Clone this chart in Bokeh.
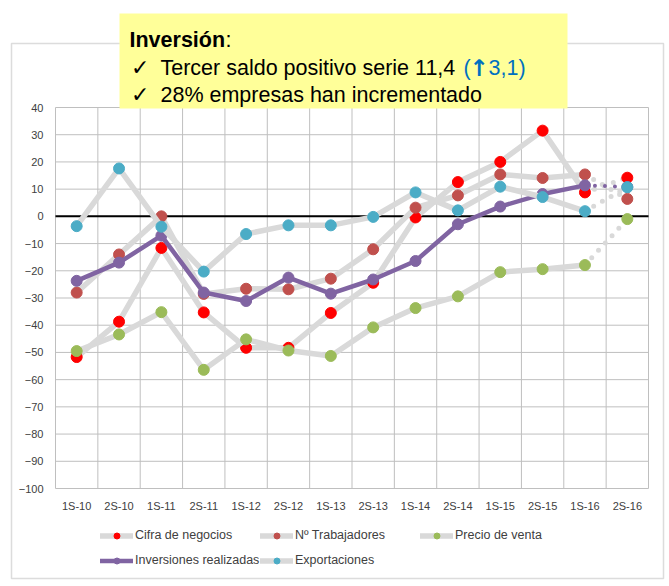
from bokeh.plotting import figure
from bokeh.models import Range1d, FixedTicker, BoxAnnotation, Label, Legend, LegendItem
from bokeh.embed import file_html
from bokeh.resources import INLINE

periods = ["1S-10", "2S-10", "1S-11", "2S-11", "1S-12", "2S-12", "1S-13",
           "2S-13", "1S-14", "2S-14", "1S-15", "2S-15", "1S-16", "2S-16"]
cifra = [-51.7, -38.7, -11.6, -35.3, -48.3, -48.3, -35.5, -24.4, -0.4, 12.6, 20.0, 31.5, 8.8, 14.2]
trabajadores = [-28.0, -14.0, 0.0, -28.5, -26.6, -26.8, -22.9, -12.1, 3.2, 7.7, 15.4, 14.1, 15.4, 6.4]
precio = [-49.5, -43.4, -35.2, -56.4, -45.2, -49.3, -51.3, -40.8, -33.7, -29.4, -20.5, -19.4, -17.9, -1.0]
inversiones = [-23.7, -17.0, -7.1, -28.0, -31.1, -22.5, -28.4, -23.2, -16.4, -2.9, 3.6, 8.2, 11.4, 10.8]
exportaciones = [-3.6, 17.6, -3.8, -20.3, -6.5, -3.3, -3.3, -0.2, 8.8, 2.2, 10.9, 7.1, 1.9, 10.7]
y_ticks = list(range(-100, 41, 10))

# canvas size and plot-area box (canvas pixels)
W, H = 666, 582
PL, PR, PT, PB = 55, 648, 107, 488

x = [i + 0.5 for i in range(len(periods))]
x_lo, x_hi = 0, len(periods)
y_lo, y_hi = y_ticks[0], y_ticks[-1]
xs = (x_hi - x_lo) / (PR - PL)
ys = (y_hi - y_lo) / (PB - PT)

p = figure(width=W, height=H,
           x_range=Range1d(x_lo - PL * xs, x_hi + (W - PR) * xs),
           y_range=Range1d(y_lo - (H - PB) * ys, y_hi + PT * ys),
           output_backend="svg", toolbar_location=None, min_border=0)
p.background_fill_color = "white"
p.border_fill_color = "white"
p.outline_line_color = None
p.grid.visible = False

p.xaxis.fixed_location = y_lo
p.yaxis.fixed_location = x_lo
p.xaxis.ticker = FixedTicker(ticks=x)
p.xaxis.major_label_overrides = {xv: lab for xv, lab in zip(x, periods)}
p.yaxis.ticker = FixedTicker(ticks=y_ticks)
for ax in (p.xaxis, p.yaxis):
    ax.axis_line_color = None
    ax.major_tick_line_color = None
    ax.minor_tick_line_color = None
    ax.major_tick_out = 0
    ax.major_tick_in = 0
    ax.major_label_text_font = "Liberation Sans"
    ax.major_label_text_font_size = "11px"
    ax.major_label_text_color = "#404040"
p.xaxis.major_label_standoff = 11
p.yaxis.major_label_standoff = 12

# grid lines of the plot area, taken from the tick lists
gx = list(range(x_lo, x_hi + 1))
p.segment(x0=gx, y0=[y_lo] * len(gx), x1=gx, y1=[y_hi] * len(gx),
          line_color="#BFBFBF", line_width=1)
p.segment(x0=[x_lo] * len(y_ticks), y0=y_ticks, x1=[x_hi] * len(y_ticks), y1=y_ticks,
          line_color="#BFBFBF", line_width=1)
# zero line
p.segment(x0=[x_lo], y0=[0], x1=[x_hi], y1=[0], line_color="black", line_width=2)

GREY = "#D9D9D9"
series = [
    ("Cifra de negocios", cifra, "#FF0000", False),
    ("Nº Trabajadores", trabajadores, "#C0504D", False),
    ("Precio de venta", precio, "#9BBB59", False),
    ("Inversiones realizadas", inversiones, "#8064A2", True),
    ("Exportaciones", exportaciones, "#4BACC6", False),
]
items = {}
for name, vals, col, main in series:
    lc = col if main else GREY
    lw = 4.5 if main else 5.5
    solid = p.line(x[:-1], vals[:-1], line_color=lc, line_width=lw, line_join="round", line_cap="round")
    p.line(x[-2:], vals[-2:], line_color=lc, line_width=lw - 0.5, line_dash="0 10", line_cap="round")
    pts = p.scatter(x, vals, size=11, fill_color=col, line_color=col)
    items[name] = LegendItem(label=name, renderers=[solid, pts])

def make_legend(names, loc):
    lg = Legend(items=[items[n] for n in names], location=loc, orientation="vertical")
    lg.border_line_color = None
    lg.background_fill_alpha = 0
    lg.padding = 0
    lg.margin = 0
    lg.spacing = 10
    lg.glyph_width = 33
    lg.glyph_height = 15
    lg.label_height = 15
    lg.label_standoff = 2
    lg.label_text_font = "Liberation Sans"
    lg.label_text_font_size = "12.5px"
    lg.label_text_color = "#404040"
    return lg

p.add_layout(make_legend(["Cifra de negocios", "Inversiones realizadas"], (100, 14.5)), "center")
p.add_layout(make_legend(["Nº Trabajadores", "Exportaciones"], (260, 14.5)), "center")
p.add_layout(make_legend(["Precio de venta"], (420, 39.5)), "center")

# outer chart border
p.add_layout(BoxAnnotation(left=11, right=663, top=43, bottom=578,
                           left_units="canvas", right_units="canvas",
                           top_units="canvas", bottom_units="canvas",
                           fill_alpha=0, line_color="#8C8C8C", line_width=1.5, level="underlay"))
# yellow callout
p.add_layout(BoxAnnotation(left=119, right=567, top=13, bottom=108,
                           left_units="canvas", right_units="canvas",
                           top_units="canvas", bottom_units="canvas",
                           fill_color="#FFFF99", fill_alpha=1, line_color=None, level="overlay"))

def lab(text, xx, yy, color="black", bold=False, font="Liberation Sans", size="21.5px"):
    p.add_layout(Label(x=xx, y=yy, x_units="canvas", y_units="canvas", text=text,
                       text_font=font, text_font_size=size,
                       text_font_style="bold" if bold else "normal",
                       text_color=color, text_baseline="alphabetic", level="overlay"))

lab("Inversión", 129, 39, bold=True)
lab(":", 225, 39)
lab("✓", 130, 67)
lab("Tercer saldo positivo serie 11,4", 160, 67)
lab("(", 463, 67, color="#0070C0")
lab("↑", 469, 67, color="#0070C0", bold=True, font="DejaVu Sans", size="23px")
lab("3,1)", 488, 67, color="#0070C0")
lab("✓", 130, 94)
lab("28% empresas han incrementado", 160, 94)

open("out.html", "w").write(file_html(p, INLINE))
